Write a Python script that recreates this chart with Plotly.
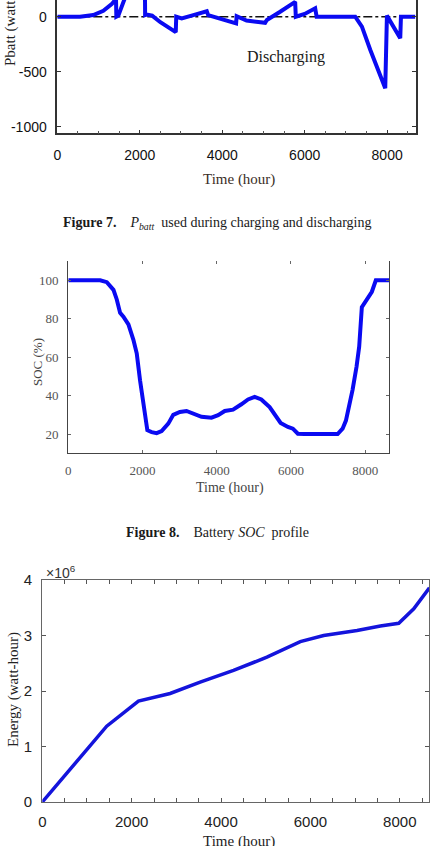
import plotly.graph_objects as go

W, H = 433, 846

# ---------- Figure 7 data: Pbatt (W) vs time (hour) ----------
pb_time = [0, 550, 874, 1117, 1319, 1400, 1422, 1432, 1480, 1650, 1850, 2122, 2130,
           2170, 2300, 2500, 2700, 2873, 2885, 3019, 3300, 3626, 3660, 4000, 4337,
           4350, 4590, 5041, 5083, 5405, 5769, 5785, 6000, 6255, 6290, 7226, 7388,
           7590, 7833, 7954, 7995, 8318, 8335, 8680]
pb_val = [0, 0, 15, 54, 114, 151, 200, 0, 10, 160, 380, 460, 15,
          20, 10, -50, -95, -140, 0, -15, 15, 50, 15, -20, -60,
          5, -35, -55, -30, 45, 135, 0, 25, 76, 0, 0, -90,
          -300, -542, -650, 10, -195, 0, 0]
ref_time = [0, 8680]
ref_val = [0, 0]

# ---------- Figure 8 data: SOC (%) ----------
soc_time = [0, 859, 1038, 1217, 1306, 1396, 1485, 1620, 1754, 1844, 1933, 2023, 2130,
            2246, 2380, 2515, 2694, 2828, 3007, 3186, 3410, 3589, 3858, 4037, 4216,
            4440, 4664, 4843, 5022, 5201, 5425, 5604, 5721, 5918, 6052, 6186, 6365,
            7257, 7391, 7481, 7570, 7660, 7767, 7839, 7910, 7973, 8090, 8180, 8287, 8650]
soc_val = [100, 100, 99, 95, 90, 83, 81, 77, 69, 62, 48, 36, 22,
           21, 20.5, 21.6, 25.4, 30, 31.5, 32, 30.6, 29, 28.5, 29.8, 32,
           32.7, 35.5, 38, 39.3, 38, 34, 29, 25.8, 23.7, 22.8, 20.2, 20,
           20, 22.8, 27, 34, 43, 55, 65.5, 86, 88, 90.8, 94, 100, 100]

# ---------- Figure 9 data: cumulative energy (x10^6 Wh) ----------
en_time = [0, 1441, 2151, 2860, 3532, 4279, 5026, 5773, 6296, 7043, 7565, 7976, 8312, 8663]
en_val_e6 = [0, 1.365, 1.817, 1.955, 2.16, 2.37, 2.61, 2.89, 3.0, 3.09, 3.17, 3.22, 3.48, 3.86]
en_val = [v * 1e6 for v in en_val_e6]

x_ticks = [0, 2000, 4000, 6000, 8000]
pb_ticks = [0, -500, -1000]
soc_ticks = [20, 40, 60, 80, 100]
en_ticks = [0, 1e6, 2e6, 3e6, 4e6]
en_ticktext = ["0", "1", "2", "3", "4"]

SERIF = "Liberation Serif, Times New Roman, serif"
SANS = "Liberation Sans, Arial, sans-serif"
BLUE = "#0a0af2"


def px(x):
    return x / W


def py(y):
    return 1 - y / H


fig = go.Figure()

# Figure 7
fig.add_trace(go.Scatter(x=ref_time, y=ref_val, mode="lines", xaxis="x", yaxis="y",
                         line=dict(color="#111111", width=1.4, dash="dashdot"),
                         hoverinfo="skip"))
fig.add_trace(go.Scatter(x=pb_time, y=pb_val, mode="lines", xaxis="x", yaxis="y",
                         line=dict(color=BLUE, width=4)))
# Figure 8
fig.add_trace(go.Scatter(x=soc_time, y=soc_val, mode="lines", xaxis="x2", yaxis="y2",
                         line=dict(color=BLUE, width=4)))
fig.add_trace(go.Scatter(x=[0], y=[50], mode="markers", xaxis="x4", yaxis="y2",
                         marker=dict(opacity=0), hoverinfo="skip"))
# Figure 9
fig.add_trace(go.Scatter(x=en_time, y=en_val, mode="lines", xaxis="x3", yaxis="y3",
                         line=dict(color="#1414dc", width=3.5)))

fig.update_layout(
    template="none",
    width=W, height=H, margin=dict(l=0, r=0, t=0, b=0, pad=0, autoexpand=False),
    paper_bgcolor="white", plot_bgcolor="white", showlegend=False,
    xaxis=dict(domain=[px(57.3), px(416)], range=[0, 8700], anchor="y", automargin=False,
               tickvals=x_ticks, ticks="inside", ticklen=4, tickcolor="#333",
               showline=True, linecolor="#333", linewidth=1.5, showgrid=False, zeroline=False,
               tickfont=dict(family=SANS, size=14, color="#111"), ticklabelstandoff=8,
               minor=dict(dtick=500, ticks="inside", ticklen=3, tickcolor="#555", showgrid=False)),
    yaxis=dict(domain=[py(133.3), 1.0], range=[-1060, 152], anchor="x", automargin=False,
               tickvals=pb_ticks, ticktext=["0", "-500", "-1000"], ticks="inside", ticklen=4,
               tickcolor="#333", showline=True, linecolor="#333", linewidth=1.5,
               mirror="ticks", showgrid=False, zeroline=False,
               tickfont=dict(family=SANS, size=14, color="#111"), ticklabelstandoff=6),
    xaxis2=dict(domain=[px(68.3), px(389.3)], range=[0, 8650], anchor="y2", automargin=False,
                tickvals=x_ticks, ticks="inside", ticklen=3, tickcolor="#666",
                showline=True, linecolor="#444", linewidth=1.3, showgrid=False, zeroline=False,
                tickfont=dict(family=SERIF, size=13, color="#555"), ticklabelstandoff=5),
    xaxis4=dict(overlaying="x2", side="top", range=[0, 8650], anchor="y2", automargin=False,
                tickvals=[2000, 4000, 6000, 8000], ticks="inside", ticklen=3, tickcolor="#666",
                showticklabels=False, showline=False, showgrid=False, zeroline=False),
    yaxis2=dict(domain=[py(453.3), py(261)], range=[10, 110], anchor="x2", automargin=False,
                tickvals=soc_ticks, ticks="inside", ticklen=3, tickcolor="#666",
                showline=True, linecolor="#444", linewidth=1.3, mirror="ticks",
                showgrid=False, zeroline=False,
                tickfont=dict(family=SERIF, size=13, color="#555"), ticklabelstandoff=6),
    xaxis3=dict(domain=[px(42.3), px(429.3)], range=[0, 8660], anchor="y3", automargin=False,
                tickvals=x_ticks, ticks="inside", ticklen=4, tickcolor="#555",
                showline=True, linecolor="#666", linewidth=1.3, mirror="ticks",
                showgrid=False, zeroline=False,
                tickfont=dict(family=SANS, size=15, color="#222"), ticklabelstandoff=6,
                minor=dict(dtick=500, ticks="inside", ticklen=4, tickcolor="#555", showgrid=False)),
    yaxis3=dict(domain=[py(802), py(580)], range=[0, 4e6], anchor="x3", automargin=False,
                tickvals=en_ticks, ticktext=en_ticktext, ticks="inside", ticklen=4,
                tickcolor="#555", showline=True, linecolor="#666", linewidth=1.3,
                mirror="ticks", showgrid=False, zeroline=False,
                tickfont=dict(family=SANS, size=15, color="#222"), ticklabelstandoff=6),
)

ann = []


def add_text(text, x, y, size, family=SERIF, color="#222", angle=0, xanchor="center",
             yanchor="middle"):
    ann.append(dict(text=text, x=px(x), y=py(y), xref="paper", yref="paper",
                    showarrow=False, xanchor=xanchor, yanchor=yanchor, textangle=angle,
                    font=dict(family=family, size=size, color=color)))


# Figure 7 texts
add_text("Pbatt (watts)", 10, 68, 15, color="#222", angle=-90, yanchor="bottom")
add_text("Discharging", 286, 57, 16, color="#1a1a1a")
add_text("Time (hour)", 239, 180, 15, color="#3a2e26")
add_text("<b>Figure 7.</b>\u00a0\u00a0\u00a0 <i>P</i><sub><i>batt</i></sub>\u00a0 used during charging and discharging",
         217, 223, 14, color="#1a1a1a")
# Figure 8 texts
add_text("SOC (%)", 37, 362, 13, color="#444", angle=-90)
add_text("Time (hour)", 230, 488, 14, color="#444")
add_text("<b>Figure 8.</b>\u00a0\u00a0\u00a0 Battery <i>SOC</i>\u00a0 profile", 217, 532, 14, color="#1a1a1a")
# Figure 9 texts
add_text("\u00d710<sup>6</sup>", 44, 572, 14, family=SANS, color="#333", xanchor="left")
add_text("Energy (watt-hour)", 13, 690, 15, color="#222", angle=-90)
add_text("Time (hour)", 239, 841, 15, color="#222")

fig.update_layout(annotations=ann)
fig.write_html("out.html")
